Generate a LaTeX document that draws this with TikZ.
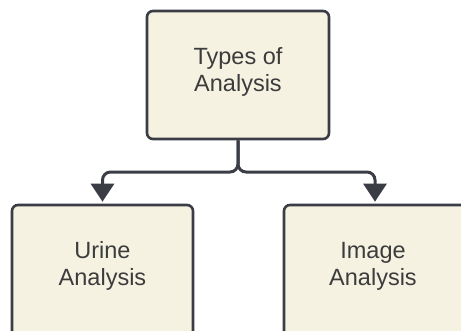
\documentclass[tikz,border=0pt]{standalone}
\usepackage{fontspec}
\setmainfont{Liberation Sans}
\usetikzlibrary{arrows.meta}
\definecolor{boxfill}{HTML}{F5F2E2}
\definecolor{edge}{HTML}{3A3D45}
\definecolor{txtc}{HTML}{3C3C3C}
\begin{document}
\begin{tikzpicture}[x=1pt,y=-1pt,
  box/.style={draw=edge, line width=2.6pt, fill=boxfill, rounded corners=6pt, inner sep=0pt},
  lbl/.style={text=txtc, align=center, font=\fontsize{23.5}{27}\selectfont, inner sep=0pt},
  conn/.style={draw=edge, line width=3pt, rounded corners=8pt, -{Triangle[width=23pt,length=18pt]}, shorten >=2pt}]
\fill[white] (0,0) rectangle (461,330);
\clip (0,0) rectangle (461,330);
\node[box, minimum width=182pt, minimum height=128pt] (top) at (238,75) {};
\node[lbl] (toptxt) at (238,72) {Types of\\Analysis};
\node[box, minimum width=181pt, minimum height=140pt] (left) at (102.5,275) {};
\node[lbl] (lefttxt) at (102.5,266) {Urine\\Analysis};
\node[box, minimum width=186pt, minimum height=140pt] (right) at (377,275) {};
\node[lbl] (righttxt) at (373,266) {Image\\Analysis};
\coordinate (split) at (238,172);
\draw[conn] (top.south) -- (split) -| (left.north);
\draw[conn] (top.south) -- (split) -| ([xshift=-2pt]right.north);
\end{tikzpicture}
\end{document}
